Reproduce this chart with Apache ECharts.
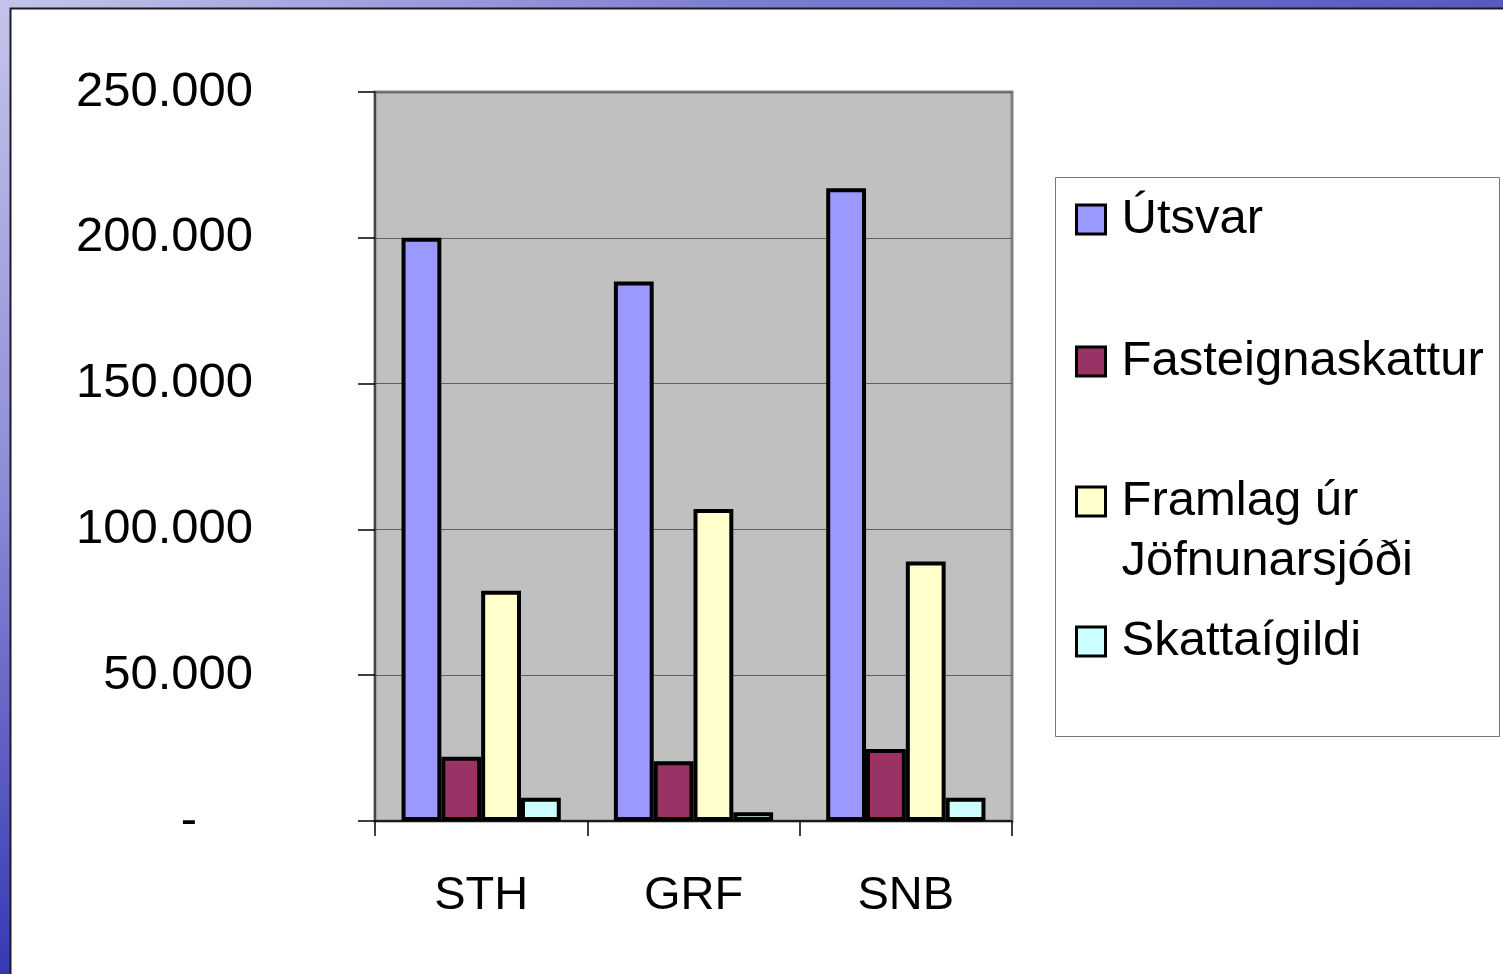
<!DOCTYPE html>
<html>
<head>
<meta charset="utf-8">
<script src="https://cdn.jsdelivr.net/npm/echarts@6/dist/echarts.min.js"></script>
<style>
  html, body { margin: 0; padding: 0; background: #fff; }
  #main { width: 1503px; height: 974px; }
</style>
</head>
<body>
<div id="main"></div>
<script>
// sveitarfélög
var categories = ['STH', 'GRF', 'SNB'];
// tekjur, þús. kr.
var utsvar = [200000, 185000, 217000];
var fasteignaskattur = [22000, 20500, 24700];
var framlag = [79000, 107000, 89000];
var skattaigildi = [8000, 3000, 8000];
var yTicks = [0, 50000, 100000, 150000, 200000, 250000];

var FONT = '"Liberation Sans", Arial, sans-serif';

function fmt(v) {
  if (v === 0) return '{d|-}';
  return String(v).replace(/\B(?=(\d{3})+(?!\d))/g, '.');
}

var myChart = echarts.init(document.getElementById('main'));

function bar(name, data, color) {
  return {
    name: name,
    type: 'bar',
    data: data,
    barGap: '0%',
    barCategoryGap: '25%',
    itemStyle: { color: color, borderColor: '#000', borderWidth: 4 }
  };
}

// einn legend fyrir hverja línu, svo bilin verði eins og á myndinni
function legendItem(name, top, rich) {
  return {
    data: [name],
    left: 1075,
    top: top,
    orient: 'vertical',
    padding: 0,
    itemWidth: 29,
    itemHeight: 29,
    selectedMode: false,
    icon: 'rect',
    itemStyle: { borderColor: '#000', borderWidth: 3 },
    formatter: rich ? function () { return '{e| }\n{t|Framlag úr}\n{t|Jöfnunarsjóði}'; } : '{t|{name}}',
    textStyle: {
      fontFamily: FONT,
      fontSize: 49,
      color: '#000',
      rich: {
        t: { fontFamily: FONT, fontSize: 49, lineHeight: 60, padding: [0, 0, 0, 11], color: '#000' },
        e: { fontFamily: FONT, fontSize: 49, lineHeight: 60 }
      }
    }
  };
}

var option = {
  animation: false,
  backgroundColor: '#fff',
  graphic: [
    {
      type: 'rect', silent: true, z: -10,
      shape: { x: 0, y: 0, width: 1503, height: 9 },
      style: {
        fill: new echarts.graphic.LinearGradient(0, 0, 1, 0, [
          { offset: 0, color: '#c4c4ea' },
          { offset: 0.5, color: '#7c7cd0' },
          { offset: 1, color: '#5858c0' }
        ])
      }
    },
    {
      type: 'rect', silent: true, z: -10,
      shape: { x: 0, y: 0, width: 11, height: 974 },
      style: {
        fill: new echarts.graphic.LinearGradient(0, 0, 0, 1, [
          { offset: 0, color: '#c4c4ea' },
          { offset: 0.5, color: '#8c8cd6' },
          { offset: 1, color: '#3838b4' }
        ])
      }
    },
    {
      type: 'rect', silent: true, z: -9,
      shape: { x: 10.5, y: 8.5, width: 1500, height: 980 },
      style: { fill: '#fff', stroke: '#1a1a2a', lineWidth: 2 }
    },
    {
      type: 'rect', silent: true, z: -5,
      shape: { x: 1055.5, y: 177.5, width: 444, height: 559 },
      style: { fill: '#fff', stroke: '#777', lineWidth: 1 }
    }
  ],
  grid: {
    left: 375, top: 92, right: 491, bottom: 153,
    show: true,
    backgroundColor: '#c0c0c0',
    borderColor: '#808080',
    borderWidth: 3
  },
  xAxis: {
    type: 'category',
    data: categories,
    axisLine: { lineStyle: { color: '#000', width: 1.5 } },
    axisTick: { show: true, length: 15, lineStyle: { color: '#000', width: 1.5 } },
    axisLabel: { fontFamily: FONT, fontSize: 47, color: '#000', margin: 52 }
  },
  yAxis: {
    type: 'value',
    min: yTicks[0],
    max: yTicks[yTicks.length - 1],
    interval: 50000,
    axisLine: { show: true, lineStyle: { color: '#333', width: 1.5 } },
    axisTick: { show: true, length: 17, lineStyle: { color: '#000', width: 1.5 } },
    splitLine: { lineStyle: { color: '#606060', width: 1.2 } },
    axisLabel: {
      fontFamily: FONT, fontSize: 49, color: '#000', margin: 122,
      formatter: fmt,
      rich: { d: { fontFamily: FONT, fontSize: 49, color: '#000', padding: [0, 56, 0, 0] } }
    }
  },
  legend: [
    legendItem('Útsvar', 195),
    legendItem('Fasteignaskattur', 337),
    legendItem('Framlag úr Jöfnunarsjóði', 417, true),
    legendItem('Skattaígildi', 617)
  ],
  series: [
    bar('Útsvar', utsvar, '#9999ff'),
    bar('Fasteignaskattur', fasteignaskattur, '#993366'),
    bar('Framlag úr Jöfnunarsjóði', framlag, '#ffffcc'),
    bar('Skattaígildi', skattaigildi, '#ccffff')
  ]
};

myChart.setOption(option);
</script>
</body>
</html>
